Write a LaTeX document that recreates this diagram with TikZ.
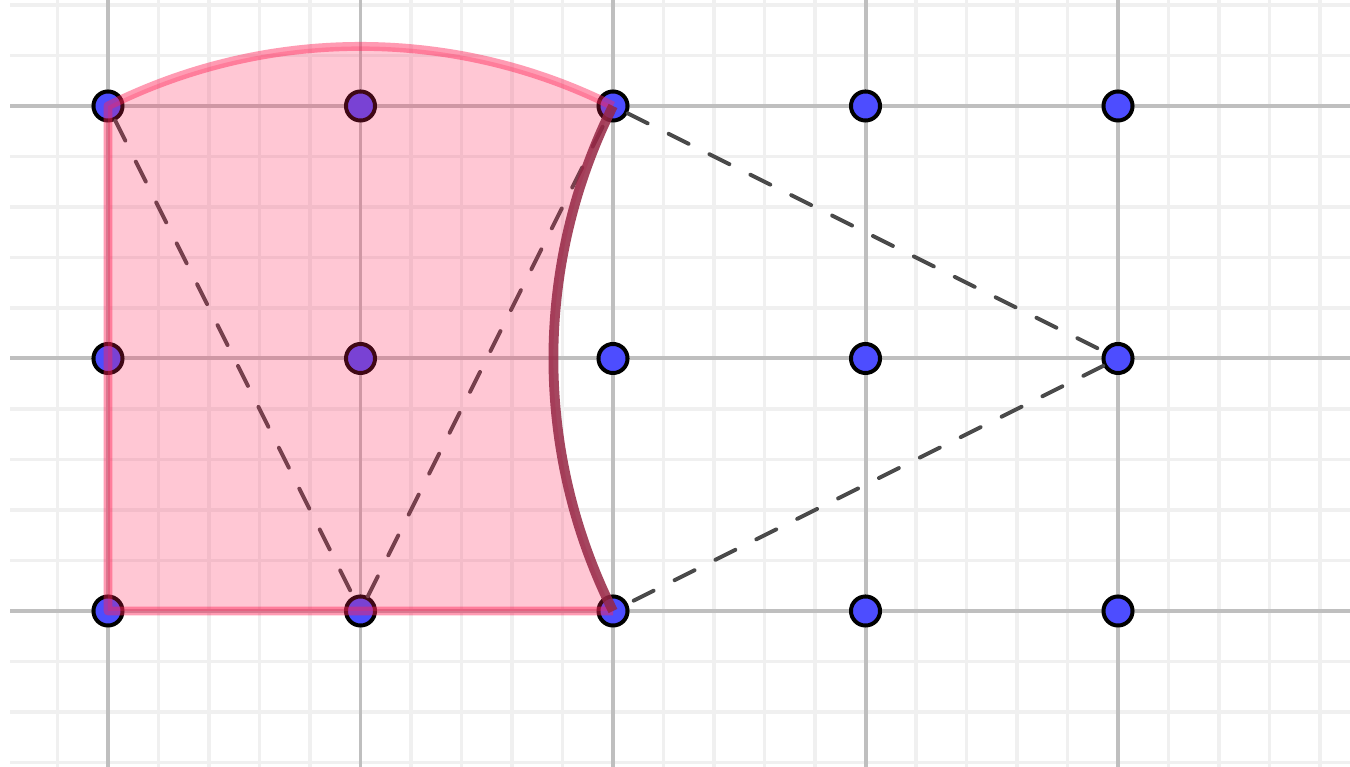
\documentclass[tikz,border=0pt]{standalone}
\usepackage{xcolor}
\usepackage{tikz}
\usetikzlibrary{positioning}
\definecolor{ggbblue}{HTML}{4D4DFF}
\definecolor{ggbrose}{RGB}{255,35,87}
\definecolor{ggbwine}{RGB}{150,38,68}
\definecolor{ggbdash}{HTML}{4A4A4A}

\begin{document}
\begin{tikzpicture}[
    x=2cm, y=2cm,
    gridpt/.style={circle, draw=black, fill=ggbblue, line width=0.9pt, minimum size=0.23cm, inner sep=0pt},
    radiusline/.style={ggbdash, line width=0.9pt, line cap=round, dash pattern=on 5pt off 5.3pt},
]
    \useasboundingbox (-0.4277, -0.6178) rectangle (4.9188, 2.4198);
    \fill[white] (-0.4277, -0.6178) rectangle (4.9188, 2.4198);

    % grid
    \begin{scope}
        \clip (-0.388, -0.6178) rectangle (4.9188, 2.4198);
        \draw[black!6, line width=0.8pt, step=0.2] (-0.6, -0.8) grid (5.0, 2.6);
        \draw[black!25, line width=0.9pt, step=1] (-0.6, -0.8) grid (5.0, 2.6);
    \end{scope}

    % lattice points
    \foreach \i in {0,...,4}
        \foreach \j in {0,1,2}
            \node[gridpt] (p\i\j) at (\i, \j) {};

    % radii of the two arcs
    \draw[radiusline] (p02) -- (p10) -- (p22);
    \draw[radiusline] (p22) -- (p41) -- (p20);

    % shaded region
    \fill[ggbrose, fill opacity=0.25]
        (p00.center) -- (p20.center)
        arc[start angle=206.565, end angle=153.435, radius=2.2361]
        arc[start angle=63.435, end angle=116.565, radius=2.2361] -- cycle;

    % boundary
    \draw[ggbrose, opacity=0.45, line width=2pt, line join=round]
        (p20.center) -- (p00.center) -- (p02.center)
        arc[start angle=116.565, end angle=63.435, radius=2.2361];
    \draw[ggbwine, opacity=0.85, line width=2.2pt]
        (p20.center) arc[start angle=206.565, end angle=153.435, radius=2.2361];
\end{tikzpicture}
\end{document}
